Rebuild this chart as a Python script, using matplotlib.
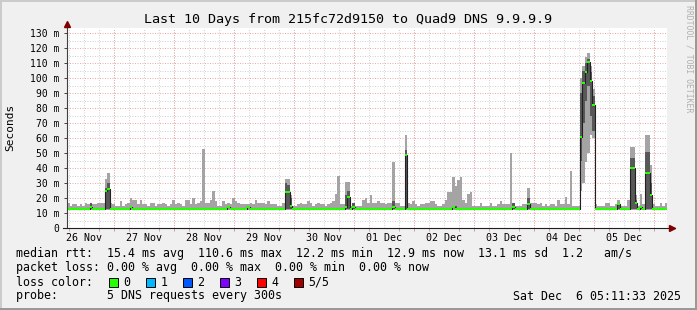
import numpy as np
import matplotlib
matplotlib.use('Agg')
import matplotlib.pyplot as plt
from matplotlib.patches import Rectangle

W, H = 697, 310
MONO = 'DejaVu Sans Mono'

# hourly bins from Wed Nov 26 05:11:33 to Sat Dec 6 05:11:33 (240 h), values in ms
hi_rtt = [
    17, 15, 16, 16, 15, 16, 15, 17, 16, 17, 16, 16, 17, 17, 17, 33, 37, 17, 16, 15, 15, 18, 15, 16,
    17, 20, 19, 19, 16, 19, 16, 16, 15, 17, 17, 15, 16, 16, 17, 16, 15, 16, 19, 16, 17, 16, 15, 19,
    19, 16, 20, 16, 17, 18, 53, 17, 17, 19, 25, 18, 15, 15, 18, 16, 17, 16, 20, 18, 17, 16, 16, 16,
    16, 17, 16, 19, 17, 17, 17, 16, 18, 16, 16, 16, 15, 15, 17, 33, 33, 22, 15, 15, 16, 17, 16, 16,
    18, 17, 15, 16, 17, 16, 16, 15, 16, 17, 18, 23, 35, 16, 16, 31, 31, 15, 17, 15, 15, 15, 19, 20,
    17, 22, 17, 17, 18, 17, 17, 16, 17, 17, 44, 17, 17, 15, 15, 62, 17, 16, 18, 16, 15, 16, 16, 17,
    17, 18, 18, 16, 15, 15, 16, 19, 24, 24, 34, 28, 32, 34, 19, 17, 23, 24, 15, 15, 15, 17, 15, 15,
    15, 17, 15, 15, 16, 18, 16, 16, 16, 50, 17, 15, 15, 15, 16, 16, 27, 17, 17, 17, 16, 17, 15, 16,
    15, 16, 16, 15, 19, 16, 16, 21, 16, 38, 15, 15, 15, 100, 108, 114, 117, 108, 93, 16, 15, 15, 15, 17,
    17, 15, 15, 16, 19, 15, 15, 15, 19, 54, 54, 22, 15, 23, 16, 62, 62, 42, 16, 15, 15, 17, 15, 17,
]

med_rtt = [
    13, 12.5, 12.5, 13, 13, 12.5, 13, 13, 13, 14, 13, 12.5, 13, 13, 13, 25, 26, 13, 12.5, 12.5, 12.5, 13, 13, 13,
    13, 14, 13, 13, 13, 13, 12.5, 13, 13, 13, 13, 13, 13, 13, 12.5, 13, 13, 13, 13, 13, 12.5, 13, 13, 13,
    13, 13, 13, 13, 13, 13, 13, 13, 12.5, 12.5, 13, 13, 12.5, 12.5, 13, 13, 14, 13, 13, 12.5, 12.5, 12.5, 13, 13,
    14, 13, 13, 12.5, 12.5, 13, 13, 13, 13, 13, 13, 13, 13, 13, 13, 24, 24, 15, 12.5, 12.5, 12.5, 13, 13, 13,
    13, 12.5, 12.5, 12.5, 13, 13, 13, 13, 13, 13, 13, 13, 13, 13, 13, 14, 21, 13, 14, 13, 13, 13, 13, 13,
    13, 13, 12.5, 13, 13, 13, 13, 12.5, 12.5, 12.5, 14, 13, 13, 13, 13, 49, 13, 13, 12.5, 13, 12.5, 13, 13, 13,
    13, 13, 13, 13, 13, 12.5, 13, 13, 12.5, 13, 14, 13, 13, 13, 13, 13, 13, 13, 12.5, 12.5, 12.5, 13, 13, 13,
    12.5, 12.5, 13, 13, 13, 13, 13, 13, 13, 13, 14, 13, 12.5, 12.5, 13, 13, 16, 12.5, 12.5, 13, 13, 13, 12.5, 12.5,
    13, 13, 13, 13, 13, 13, 13, 13, 13, 13, 13, 13, 13, 61, 97, 104, 110.6, 98, 82, 13, 12.5, 12.5, 12.5, 13,
    12.5, 12.5, 13, 13, 16, 13, 13, 13, 13, 40, 40, 17, 13, 14, 13, 37, 37, 22, 13, 12.5, 12.5, 12.5, 13, 13,
]

lo_rtt = [
    12, 12, 12, 12, 12, 12, 12, 12, 12, 12, 12, 12, 12, 12, 12, 12, 12, 12, 12, 12, 12, 12, 12, 12,
    12, 12, 12, 12, 12, 12, 12, 12, 12, 12, 12, 12, 12, 12, 12, 12, 12, 12, 12, 12, 12, 12, 12, 12,
    12, 12, 12, 12, 12, 12, 12, 12, 12, 12, 12, 12, 12, 12, 12, 12, 12, 12, 12, 12, 12, 12, 12, 12,
    12, 12, 12, 12, 12, 12, 12, 12, 12, 12, 12, 12, 12, 12, 12, 12, 12, 12, 12, 12, 12, 12, 12, 12,
    12, 12, 12, 12, 12, 12, 12, 12, 12, 12, 12, 12, 12, 12, 12, 12, 12, 12, 12, 12, 12, 12, 12, 12,
    12, 12, 12, 12, 12, 12, 12, 12, 12, 12, 12, 12, 12, 12, 12, 12, 12, 12, 12, 12, 12, 12, 12, 12,
    12, 12, 12, 12, 12, 12, 12, 12, 12, 12, 12, 12, 12, 12, 12, 12, 12, 12, 12, 12, 12, 12, 12, 12,
    12, 12, 12, 12, 12, 12, 12, 12, 12, 12, 12, 12, 12, 12, 12, 12, 12, 12, 12, 12, 12, 12, 12, 12,
    12, 12, 12, 12, 12, 12, 12, 12, 12, 12, 12, 12, 12, 25, 30, 44, 50, 62, 60, 12, 12, 12, 12, 12,
    12, 12, 12, 12, 12, 12, 12, 12, 12, 12, 12, 12, 12, 12, 12, 12, 12, 12, 12, 12, 12, 12, 12, 12,
]

# inner (ping 2..4) smoke band, only where it shows
dark_idx = [9, 15, 16, 87, 88, 89, 111, 112, 114, 130, 135, 155, 178, 184,
            205, 206, 207, 208, 209, 210, 220, 225, 226, 227, 229, 231, 232, 233]
dark_lo = [13, 13, 13, 13, 13, 13, 13, 13, 13, 13, 13, 13, 13, 13,
           45, 70, 85, 95, 75, 65, 13, 13, 13, 13, 13, 13, 13, 13]
dark_hi = [17, 27, 30, 30, 29, 20, 22, 25, 17, 18, 52, 15, 17, 20,
           90, 105, 110, 113, 104, 88, 17, 47, 47, 19, 15, 51, 51, 30]

day_labels = ['26 Nov', '27 Nov', '28 Nov', '29 Nov', '30 Nov',
              '01 Dec', '02 Dec', '03 Dec', '04 Dec', '05 Dec']
y_ticks = [0, 10, 20, 30, 40, 50, 60, 70, 80, 90, 100, 110, 120, 130]
y_labels = ['0'] + ['%d m' % v for v in y_ticks[1:]]

loss_names = ['0', '1', '2', '3', '4', '5/5']
loss_colors = ['#26ff00', '#00b8ff', '#0059ff', '#7e00ff', '#ff0000', '#a00000']

legend_lines = [
    'median rtt:  15.4 ms avg  110.6 ms max  12.2 ms min  12.9 ms now  13.1 ms sd  1.2   am/s',
    'packet loss: 0.00 % avg  0.00 % max  0.00 % min  0.00 % now',
    'loss color:',
    'probe:       5 DNS requests every 300s',
]

start_offset = 5 + 11 / 60 + 33 / 3600   # hours after midnight Nov 26
midnights = [24 - start_offset + 24 * k for k in range(10)]
noons = [12 - start_offset + 24 * k for k in range(10)]
six_hours = [6 - start_offset + 6 * k for k in range(40)]


def fx(x):
    return x / W


def fy(y):
    return 1 - y / H


fig = plt.figure(figsize=(W / 100, H / 100), dpi=100, facecolor='#f0f0f0')
ax = fig.add_axes([fx(67), fy(228), 600 / W, 200 / H])
ax.set_facecolor('white')
ax.set_xlim(0, 240)
ax.set_ylim(0, 200 / 1.5)

# grid (rrdtool style dotted)
dot = (0, (1, 1.5))
for v in range(5, 130, 10):
    ax.axhline(v, color='#d2d2d2', lw=0.72, ls=dot, zorder=0)
for t in six_hours:
    if 0 < t < 240:
        ax.axvline(t, color='#d2d2d2', lw=0.72, ls=dot, zorder=0)
for v in y_ticks[1:]:
    ax.axhline(v, color='#eeaaaa', lw=0.72, ls=dot, zorder=0.5)
for t in midnights:
    ax.axvline(t, color='#eeaaaa', lw=0.72, ls=dot, zorder=0.5)

# smoke
edges = np.arange(len(hi_rtt) + 1)
hi = np.array(hi_rtt + hi_rtt[-1:], dtype=float)
lo = np.array(lo_rtt + lo_rtt[-1:], dtype=float)
med = np.array(med_rtt, dtype=float)
ax.fill_between(edges, lo, hi, step='post', color='#a4a4a4', lw=0, zorder=1)
ax.bar(dark_idx, np.array(dark_hi) - np.array(dark_lo), bottom=dark_lo, width=1,
       align='edge', color='#585858', lw=0, zorder=2)

# median line + loss colour bars
ax.plot(edges, np.append(med, med[-1]), drawstyle='steps-post', color='#202020', lw=0.8, zorder=3)
lc = ax.hlines(med, edges[:-1], edges[1:], colors=loss_colors[0], lw=1.45, zorder=4)
lc.set_capstyle('butt')

# axes with arrows
for s in ax.spines.values():
    s.set_visible(False)
ax.plot([0, 0], [0, 137], color='#404040', lw=0.8, clip_on=False, zorder=5)
ax.plot([-1.6, 243], [0, 0], color='#202020', lw=0.8, clip_on=False, zorder=5)
ax.plot(0, 136.2, marker='^', color='#7f0000', ms=4, clip_on=False, zorder=6)
ax.plot(241.8, 0, marker='>', color='#7f0000', ms=4, clip_on=False, zorder=6)

ax.set_yticks(y_ticks)
ax.set_yticklabels(y_labels, fontsize=7, family=MONO)
ax.tick_params(axis='y', length=2, width=0.7, color='#404040', pad=3.5)
ax.set_xticks(noons)
ax.set_xticklabels(day_labels, fontsize=7.2, family=MONO)
ax.tick_params(axis='x', which='major', length=0, pad=3.5)
ax.set_xticks([t for t in six_hours if 0 < t < 240], minor=True)
ax.tick_params(axis='x', which='minor', length=2, width=0.6, color='#d09090')

# texts
fig.text(fx(348.5), fy(19), 'Last 10 Days from 215fc72d9150 to Quad9 DNS 9.9.9.9',
         ha='center', va='center', fontsize=9.6, family=MONO)
fig.text(fx(10), fy(127), 'Seconds', rotation=90, ha='center', va='center',
         fontsize=8, family=MONO)
fig.text(fx(689), fy(5), 'RRDTOOL / TOBI OETIKER', rotation=270, ha='center', va='top',
         fontsize=5.9, family=MONO, color='#b0b0b0')

rows_y = [254, 268, 282, 296]
for txt, yy in zip(legend_lines, rows_y):
    fig.text(fx(16), fy(yy), txt, ha='left', va='center', fontsize=8.4, family=MONO)
fig.text(fx(681), fy(296), 'Sat Dec  6 05:11:33 2025', ha='right', va='center',
         fontsize=8.4, family=MONO)

for k, (name, col) in enumerate(zip(loss_names, loss_colors)):
    x0 = 108.5 + 37 * k
    fig.add_artist(Rectangle((fx(x0), fy(286.5)), 9 / W, 9 / H, transform=fig.transFigure,
                             facecolor=col, edgecolor='black', lw=0.7))
    fig.text(fx(x0 + 15), fy(282), name, ha='left', va='center', fontsize=8.4, family=MONO)

# 3d frame around the image
fig.add_artist(Rectangle((0, fy(2)), 1, 2 / H, transform=fig.transFigure, color='#cbcbcb', lw=0))
fig.add_artist(Rectangle((0, 0), 2 / W, 1, transform=fig.transFigure, color='#cbcbcb', lw=0))
fig.add_artist(Rectangle((fx(W - 2), 0), 2 / W, 1, transform=fig.transFigure, color='#999999', lw=0))
fig.add_artist(Rectangle((0, 0), 1, 2 / H, transform=fig.transFigure, color='#999999', lw=0))

fig.savefig('out.png', dpi=100, facecolor=fig.get_facecolor())
